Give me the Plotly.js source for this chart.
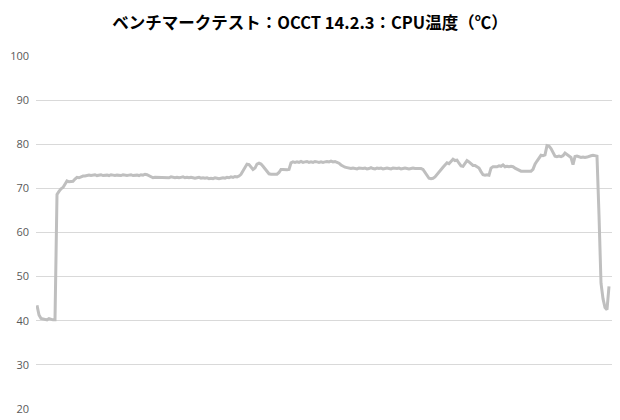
<!DOCTYPE html>
<html>
<head>
<meta charset="utf-8">
<script src="https://cdn.plot.ly/plotly-3.0.1.min.js"></script>
<style>html,body{margin:0;padding:0;background:#fff;}#chart{width:620px;height:420px;}</style>
</head>
<body>
<div id="chart"></div>
<script>
const chartTitle = "ベンチマークテスト：OCCT 14.2.3：CPU温度（℃）";
const yTicks = [20, 30, 40, 50, 60, 70, 80, 90, 100];
const cpuTemp = [
43.5,41.3,40.5,40.4,40.4,40.2,40.5,40.3,40.2,40.2,
68.6,69.3,69.9,70.2,70.9,71.7,71.5,71.6,71.6,72.1,
72.5,72.4,72.7,72.8,72.8,72.9,73.0,72.9,73.0,73.1,
72.9,73.0,73.1,72.9,73.0,73.0,72.9,73.1,73.0,72.9,
73.0,73.0,72.9,73.1,73.0,72.9,73.0,73.1,72.9,73.0,
73.0,72.9,73.1,73.0,73.2,73.1,72.8,72.5,72.4,72.5,
72.5,72.4,72.5,72.4,72.5,72.4,72.4,72.6,72.5,72.4,
72.5,72.4,72.5,72.6,72.4,72.5,72.4,72.5,72.4,72.3,
72.4,72.5,72.3,72.4,72.3,72.4,72.2,72.3,72.2,72.4,
72.3,72.2,72.3,72.4,72.3,72.5,72.4,72.6,72.5,72.7,
72.6,72.8,73.2,74.0,74.8,75.5,75.4,74.7,74.3,74.6,
75.5,75.7,75.5,75.0,74.4,73.7,73.3,73.2,73.2,73.3,
73.2,73.6,74.3,74.3,74.2,74.2,74.3,75.8,76.0,75.9,
76.0,75.9,76.1,75.9,76.0,76.1,75.9,76.0,75.9,76.1,
76.0,75.9,76.0,75.9,76.0,76.1,76.0,76.2,76.0,76.1,
75.9,75.7,75.3,75.0,74.8,74.7,74.6,74.5,74.6,74.5,
74.4,74.6,74.5,74.5,74.6,74.4,74.5,74.7,74.5,74.4,
74.6,74.5,74.6,74.4,74.5,74.6,74.5,74.4,74.6,74.5,
74.5,74.6,74.4,74.5,74.6,74.5,74.4,74.5,74.6,74.5,
74.5,74.6,74.5,74.3,73.6,72.8,72.3,72.2,72.3,72.6,
73.2,73.6,74.2,74.8,75.3,75.8,75.6,76.2,76.6,76.3,
76.4,75.7,75.1,75.0,75.8,76.3,76.0,75.5,75.2,75.2,
74.8,74.6,73.8,73.1,73.0,73.1,73.0,74.6,74.9,74.9,
74.9,75.1,75.0,75.3,74.9,75.0,74.9,75.0,74.9,74.6,
74.3,74.0,73.9,73.9,73.9,73.9,73.9,73.9,74.3,75.5,
76.2,76.8,77.5,77.4,77.6,79.7,79.6,79.0,78.2,77.3,
77.2,77.3,77.2,77.4,78.0,77.7,77.3,77.0,75.4,77.2,
77.3,77.1,77.0,77.1,77.0,77.1,77.3,77.4,77.5,77.4,
77.3,64.0,48.5,45.0,43.0,42.5,47.8
];
const sampleIndex = cpuTemp.map((_, i) => i);

Plotly.newPlot('chart', [{
  x: sampleIndex,
  y: cpuTemp,
  type: 'scatter',
  mode: 'lines',
  line: {color: '#bfbfbf', width: 3},
  hoverinfo: 'y'
}], {
  width: 620,
  height: 420,
  margin: {l: 36, r: 8, t: 56, b: 11},
  paper_bgcolor: '#ffffff',
  plot_bgcolor: '#ffffff',
  showlegend: false,
  title: {
    text: '<b>' + chartTitle + '</b>',
    x: 0.5,
    xanchor: 'center',
    y: 0.945,
    yanchor: 'middle',
    font: {family: '"Noto Sans CJK JP", "Noto Sans", sans-serif', size: 16.5, color: '#000000'}
  },
  xaxis: {
    range: [-0.5, cpuTemp.length + 0.5],
    showgrid: false,
    zeroline: false,
    showline: false,
    showticklabels: false,
    ticks: ''
  },
  yaxis: {
    range: [20, 100],
    tickvals: yTicks,
    ticktext: yTicks.map(String),
    color: '#595959',
    showgrid: true,
    gridcolor: '#d9d9d9',
    gridwidth: 1,
    zeroline: false,
    showline: false,
    ticks: '',
    ticklabelstandoff: 6,
    tickfont: {family: '"Open Sans", "Noto Sans", sans-serif', size: 11, color: '#595959'}
  }
}, {displayModeBar: false, staticPlot: true});
</script>
</body>
</html>
